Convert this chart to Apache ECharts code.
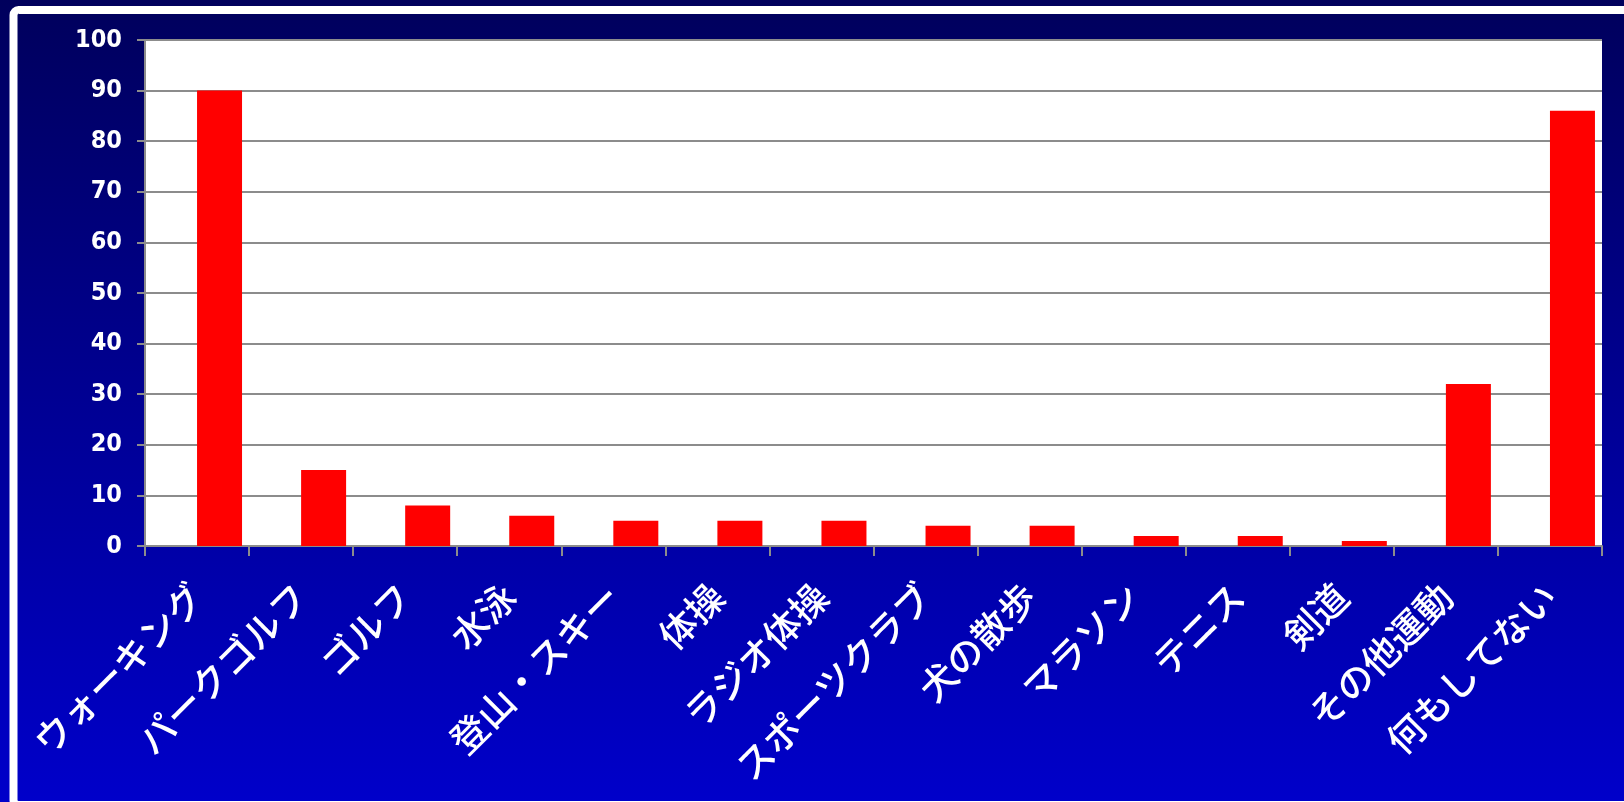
<!DOCTYPE html>
<html>
<head>
<meta charset="utf-8">
<script src="https://cdn.jsdelivr.net/npm/echarts@6/dist/echarts.min.js"></script>
<style>
html,body{margin:0;padding:0;background:#000060;}
#chart{width:1624px;height:802px;}
</style>
</head>
<body>
<div id="chart"></div>
<script>
const categories = ['ウォーキング','パークゴルフ','ゴルフ','水泳','登山・スキー','体操','ラジオ体操','スポーツクラブ','犬の散歩','マラソン','テニス','剣道','その他運動','何もしてない'];
const values = [90, 15, 8, 6, 5, 5, 5, 4, 4, 2, 2, 1, 32, 86];
const emptySeries = [null, null, null, null, null, null, null, null, null, null, null, null, null, null];
const yMin = 0, yMax = 100, yInterval = 10;

const chart = echarts.init(document.getElementById('chart'), null, {renderer: 'canvas'});
const gray = '#8c8c8c';
chart.setOption({
  animation: false,
  backgroundColor: {
    type: 'linear', x: 0, y: 0, x2: 0, y2: 1,
    colorStops: [{offset: 0, color: '#00005c'}, {offset: 1, color: '#0000ca'}]
  },
  graphic: [{
    type: 'rect', silent: true, z: -1,
    shape: {x: 13.5, y: 10, width: 1700, height: 795, r: 5},
    style: {fill: 'none', stroke: '#ffffff', lineWidth: 8}
  }],
  grid: {
    left: 145, right: 22, top: 40, bottom: 256,
    show: true, backgroundColor: '#ffffff', borderWidth: 0
  },
  xAxis: {
    type: 'category',
    data: categories,
    boundaryGap: true,
    axisLine: {show: true, lineStyle: {color: gray, width: 2}},
    axisTick: {show: true, length: 10, alignWithLabel: false, lineStyle: {color: gray, width: 2}},
    axisLabel: {
      interval: 0, rotate: 45, margin: 44,
      color: '#ffffff', fontSize: 37, fontWeight: 500,
      fontFamily: '"Noto Sans CJK JP", sans-serif'
    },
    splitLine: {show: false}
  },
  yAxis: {
    type: 'value',
    min: yMin, max: yMax, interval: yInterval,
    axisLine: {show: true, lineStyle: {color: gray, width: 2}},
    axisTick: {show: true, length: 8, lineStyle: {color: gray, width: 2}},
    axisLabel: {
      margin: 23, color: '#ffffff', fontSize: 25, fontWeight: 'bold',
      fontFamily: '"Liberation Sans Narrow", "DejaVu Sans Condensed", sans-serif'
    },
    splitLine: {show: true, lineStyle: {color: gray, width: 2}}
  },
  series: [
    {type: 'bar', data: emptySeries, barWidth: 45, barGap: '0%', itemStyle: {color: 'transparent'}},
    {type: 'bar', data: values, barWidth: 45, barGap: '0%', itemStyle: {color: '#ff0000'}}
  ]
});
</script>
</body>
</html>
